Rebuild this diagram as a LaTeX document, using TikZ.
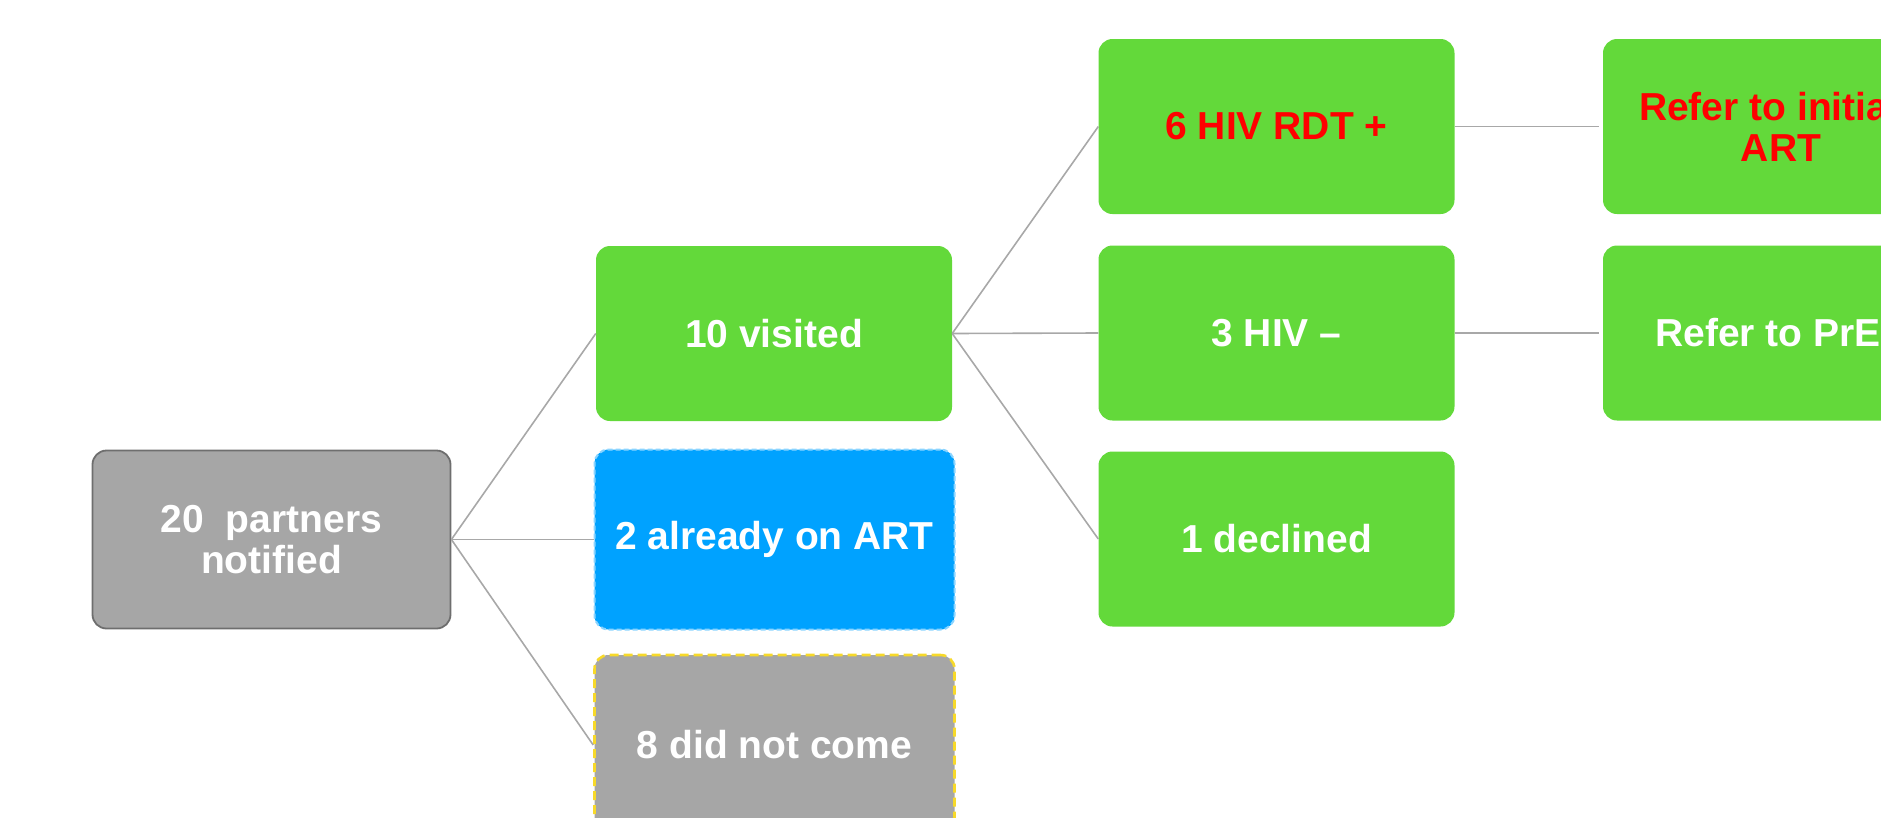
\documentclass[tikz,border=0pt]{standalone}
\usepackage{fontspec}
\setmainfont{Liberation Sans}
\definecolor{boxgreen}{HTML}{63D93A}
\definecolor{boxgrey}{HTML}{A6A6A6}
\definecolor{rootborder}{HTML}{6E6E6E}
\definecolor{boxblue}{HTML}{00A2FF}
\definecolor{blueborder}{HTML}{8AD4FF}
\definecolor{dashyellow}{HTML}{F7D92A}
\definecolor{linkgrey}{HTML}{A8A8A8}
\definecolor{txtred}{HTML}{FF0000}
\tikzset{
  box/.style={rectangle, rounded corners=14pt, minimum width=356pt, minimum height=175pt,
    align=center, text=white, inner sep=0pt,
    font=\fontsize{39}{41}\selectfont\bfseries},
  greenbox/.style={box, fill=boxgreen},
  rootbox/.style={box, fill=boxgrey, draw=rootborder, line width=1.8pt, minimum width=358pt, minimum height=178pt},
  bluebox/.style={box, fill=boxblue, draw=blueborder, line width=2pt, dash pattern=on 5pt off 3pt, minimum width=360pt, minimum height=180pt},
  yellowbox/.style={box, fill=boxgrey, draw=dashyellow, line width=2.6pt, dash pattern=on 9pt off 5pt, minimum width=360pt, minimum height=180pt},
  link/.style={draw=linkgrey, line width=1.6pt},
  redtext/.style={text=txtred}
}
\begin{document}
\begin{tikzpicture}[x=1pt,y=-1pt]
\useasboundingbox (0,0) rectangle (1881,817);
\clip (0,0) rectangle (1881,817);
\node[rootbox] (root) at (271.5,539.5) {20\ \ partners\\notified};
\node[greenbox] (visited) at (774,333.5) {10 visited};
\node[bluebox] (already) at (774.5,539.5) {2 already on ART};
\node[yellowbox] (nocome) at (774.5,745) {8 did not come};
\node[greenbox, redtext] (hivpos) at (1276.5,126.5) {6 HIV RDT +};
\node[greenbox] (hivneg) at (1276.5,333) {3 HIV --};
\node[greenbox] (declined) at (1276.5,539) {1 declined};
\node[greenbox, redtext] (refart) at (1781,126.5) {Refer to initiate\\ART};
\node[greenbox] (refprep) at (1781,333) {Refer to PrEP};
\draw[link] (root.east) -- (visited.west);
\draw[link] (root.east) -- (already.west);
\draw[link] (root.east) -- (nocome.west);
\draw[link] (visited.east) -- (hivpos.west);
\draw[link] (visited.east) -- (hivneg.west);
\draw[link] (visited.east) -- (declined.west);
\draw[link] (hivpos.east) -- ([xshift=-4pt]refart.west);
\draw[link] (hivneg.east) -- ([xshift=-4pt]refprep.west);
\end{tikzpicture}
\end{document}
